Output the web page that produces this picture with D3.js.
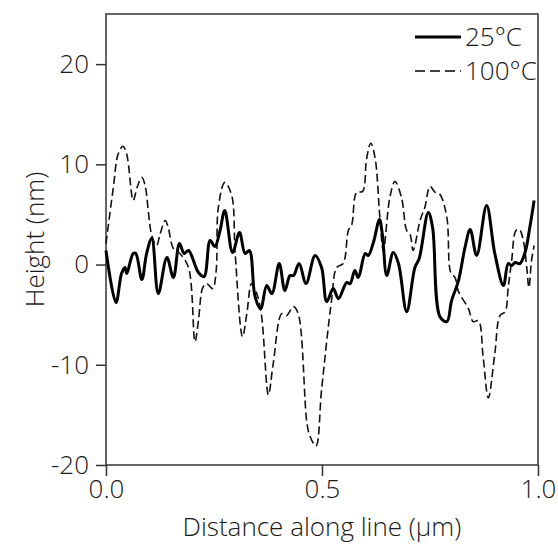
<!DOCTYPE html>
<html>
<head>
<meta charset="utf-8">
<script src="https://cdn.jsdelivr.net/npm/d3@7"></script>
<style>
  html, body { margin: 0; padding: 0; background: #fff; }
  text { font-family: "Open Sans", "Noto Sans", sans-serif; font-weight: 300; fill: #1a1a1a; }
</style>
</head>
<body>
<svg id="chart"></svg>
<script>
// 25°C profile: distance (µm), height (nm)
const x25 = [0.000, 0.023, 0.036, 0.044, 0.048, 0.063, 0.069, 0.083, 0.094, 0.106, 0.121, 0.141, 0.156, 0.170, 0.181, 0.191, 0.214, 0.227, 0.241, 0.252, 0.264, 0.275, 0.293, 0.309, 0.322, 0.332, 0.345, 0.358, 0.372, 0.384, 0.401, 0.414, 0.426, 0.434, 0.447, 0.463, 0.484, 0.499, 0.511, 0.526, 0.538, 0.557, 0.565, 0.576, 0.584, 0.600, 0.607, 0.619, 0.633, 0.640, 0.650, 0.665, 0.677, 0.696, 0.715, 0.725, 0.746, 0.756, 0.773, 0.789, 0.800, 0.816, 0.831, 0.843, 0.858, 0.881, 0.900, 0.920, 0.931, 0.939, 0.947, 0.958, 0.970, 0.981, 0.991];
const y25 = [1.4, -3.8, -0.9, -0.3, -0.9, 1.1, 1.1, -1.5, 1.1, 2.6, -2.9, 0.7, -1.3, 2.1, 1.1, 1.4, -0.8, -1.2, 2.4, 1.8, 3.4, 5.4, 1.2, 3.2, 1.1, 1.4, -3.2, -4.4, -2.1, -2.9, 0.1, -2.6, -1.1, -1.1, 0.1, -1.9, 0.9, -0.3, -3.7, -2.4, -3.4, -1.8, -1.9, -0.6, -1.3, 1.1, 0.9, 2.2, 4.5, 2.9, -1.1, 1.2, 0.1, -4.7, -0.3, 0.6, 5.2, 3.7, -5.2, -5.7, -3.6, -1.6, 1.7, 3.5, 0.9, 5.9, 1.1, -2.1, 0.1, -0.1, 0.2, 0.1, 1.2, 3.7, 6.4];

// 100°C profile
const x100 = [0.000, 0.017, 0.028, 0.039, 0.048, 0.063, 0.072, 0.083, 0.090, 0.106, 0.117, 0.125, 0.137, 0.144, 0.156, 0.171, 0.191, 0.206, 0.214, 0.224, 0.233, 0.247, 0.255, 0.260, 0.275, 0.291, 0.299, 0.316, 0.326, 0.337, 0.349, 0.360, 0.376, 0.387, 0.407, 0.418, 0.434, 0.445, 0.465, 0.472, 0.486, 0.499, 0.522, 0.534, 0.549, 0.561, 0.569, 0.580, 0.594, 0.603, 0.613, 0.623, 0.634, 0.642, 0.657, 0.669, 0.684, 0.696, 0.704, 0.711, 0.727, 0.738, 0.750, 0.762, 0.773, 0.789, 0.798, 0.808, 0.816, 0.839, 0.850, 0.862, 0.873, 0.885, 0.900, 0.912, 0.924, 0.931, 0.939, 0.949, 0.957, 0.966, 0.974, 0.979, 0.985, 0.991];
const y100 = [2.1, 7.7, 11.0, 11.8, 11.0, 6.4, 7.7, 8.7, 8.0, 2.9, 1.9, 3.0, 4.4, 3.7, 1.6, 1.1, -0.3, -7.7, -5.6, -2.3, -1.9, -2.4, -0.6, 5.7, 8.2, 6.9, 1.1, -7.2, -4.9, -1.9, -2.9, -5.1, -13.0, -9.9, -4.9, -5.1, -4.2, -4.9, -15.8, -17.1, -18.1, -12.5, -3.6, -0.3, 0.1, 3.4, 4.0, 7.2, 7.3, 10.5, 12.1, 10.6, 4.7, 1.4, 6.7, 8.3, 6.7, 3.4, 3.0, 1.4, 4.4, 5.7, 7.8, 7.2, 7.0, 4.7, -0.8, -1.3, -2.7, -4.4, -5.7, -5.6, -9.2, -13.3, -8.9, -5.1, -4.7, -2.3, 0.4, 3.4, 3.5, 2.4, -0.3, -2.3, 0.4, 1.9];

const xTicks = [0, 0.5, 1];
const yTicks = [-20, -10, 0, 10, 20];
const seriesNames = ["25°C", "100°C"];

const width = 558;
const height = 557;
const margin = {top: 14, right: 20, bottom: 92, left: 106};
const fontSize = "26px";

const svg = d3.select("#chart").attr("width", width).attr("height", height);

const x = d3.scaleLinear().domain([0, 1]).range([margin.left, width - margin.right]);
const y = d3.scaleLinear().domain([-20, 25]).range([height - margin.bottom, margin.top]);

// axes
svg.append("g")
  .attr("transform", `translate(0,${height - margin.bottom})`)
  .call(d3.axisBottom(x).tickValues(xTicks).tickFormat(d3.format(".1f")).tickSize(11).tickPadding(4))
  .call((g) => g.select(".domain").remove())
  .call((g) => g.selectAll("line").attr("stroke", "#333").attr("stroke-width", 1.5))
  .call((g) => g.selectAll("text").attr("font-size", fontSize).attr("fill", "#1a1a1a"));

svg.append("g")
  .attr("transform", `translate(${margin.left},0)`)
  .call(d3.axisLeft(y).tickValues(yTicks).tickFormat((d) => String(d)).tickSize(10).tickPadding(7))
  .call((g) => g.select(".domain").remove())
  .call((g) => g.selectAll("line").attr("stroke", "#333").attr("stroke-width", 1.5))
  .call((g) => g.selectAll("text").attr("font-size", fontSize).attr("fill", "#1a1a1a"));

svg.append("rect")
  .attr("x", margin.left)
  .attr("y", margin.top)
  .attr("width", width - margin.left - margin.right)
  .attr("height", height - margin.top - margin.bottom)
  .attr("fill", "none")
  .attr("stroke", "#333")
  .attr("stroke-width", 1.5);

const line = d3.line()
  .x((d) => x(d[0]))
  .y((d) => y(d[1]))
  .curve(d3.curveCatmullRom.alpha(0.5));

svg.append("path")
  .datum(x100.map((d, i) => [d, y100[i]]))
  .attr("d", line)
  .attr("fill", "none")
  .attr("stroke", "#111")
  .attr("stroke-width", 1.6)
  .attr("stroke-dasharray", "8,4");

svg.append("path")
  .datum(x25.map((d, i) => [d, y25[i]]))
  .attr("d", line)
  .attr("fill", "none")
  .attr("stroke", "#000")
  .attr("stroke-width", 3);

// axis titles
svg.append("text")
  .attr("x", (margin.left + width - margin.right) / 2)
  .attr("y", 536)
  .attr("text-anchor", "middle")
  .attr("font-size", fontSize)
  .text("Distance along line (µm)");

svg.append("text")
  .attr("transform", `translate(44,${(margin.top + height - margin.bottom) / 2}) rotate(-90)`)
  .attr("text-anchor", "middle")
  .attr("font-size", fontSize)
  .text("Height (nm)");

// legend
const legend = svg.append("g");
seriesNames.forEach((name, i) => {
  const ly = 37 + i * 34;
  legend.append("line")
    .attr("x1", 415).attr("x2", 461)
    .attr("y1", ly).attr("y2", ly)
    .attr("stroke", "#000")
    .attr("stroke-width", i === 0 ? 3 : 1.5)
    .attr("stroke-dasharray", i === 0 ? null : "10,5");
  legend.append("text")
    .attr("x", 465)
    .attr("y", ly)
    .attr("dy", "0.35em")
    .attr("font-size", fontSize)
    .text(name);
});
</script>
</body>
</html>
